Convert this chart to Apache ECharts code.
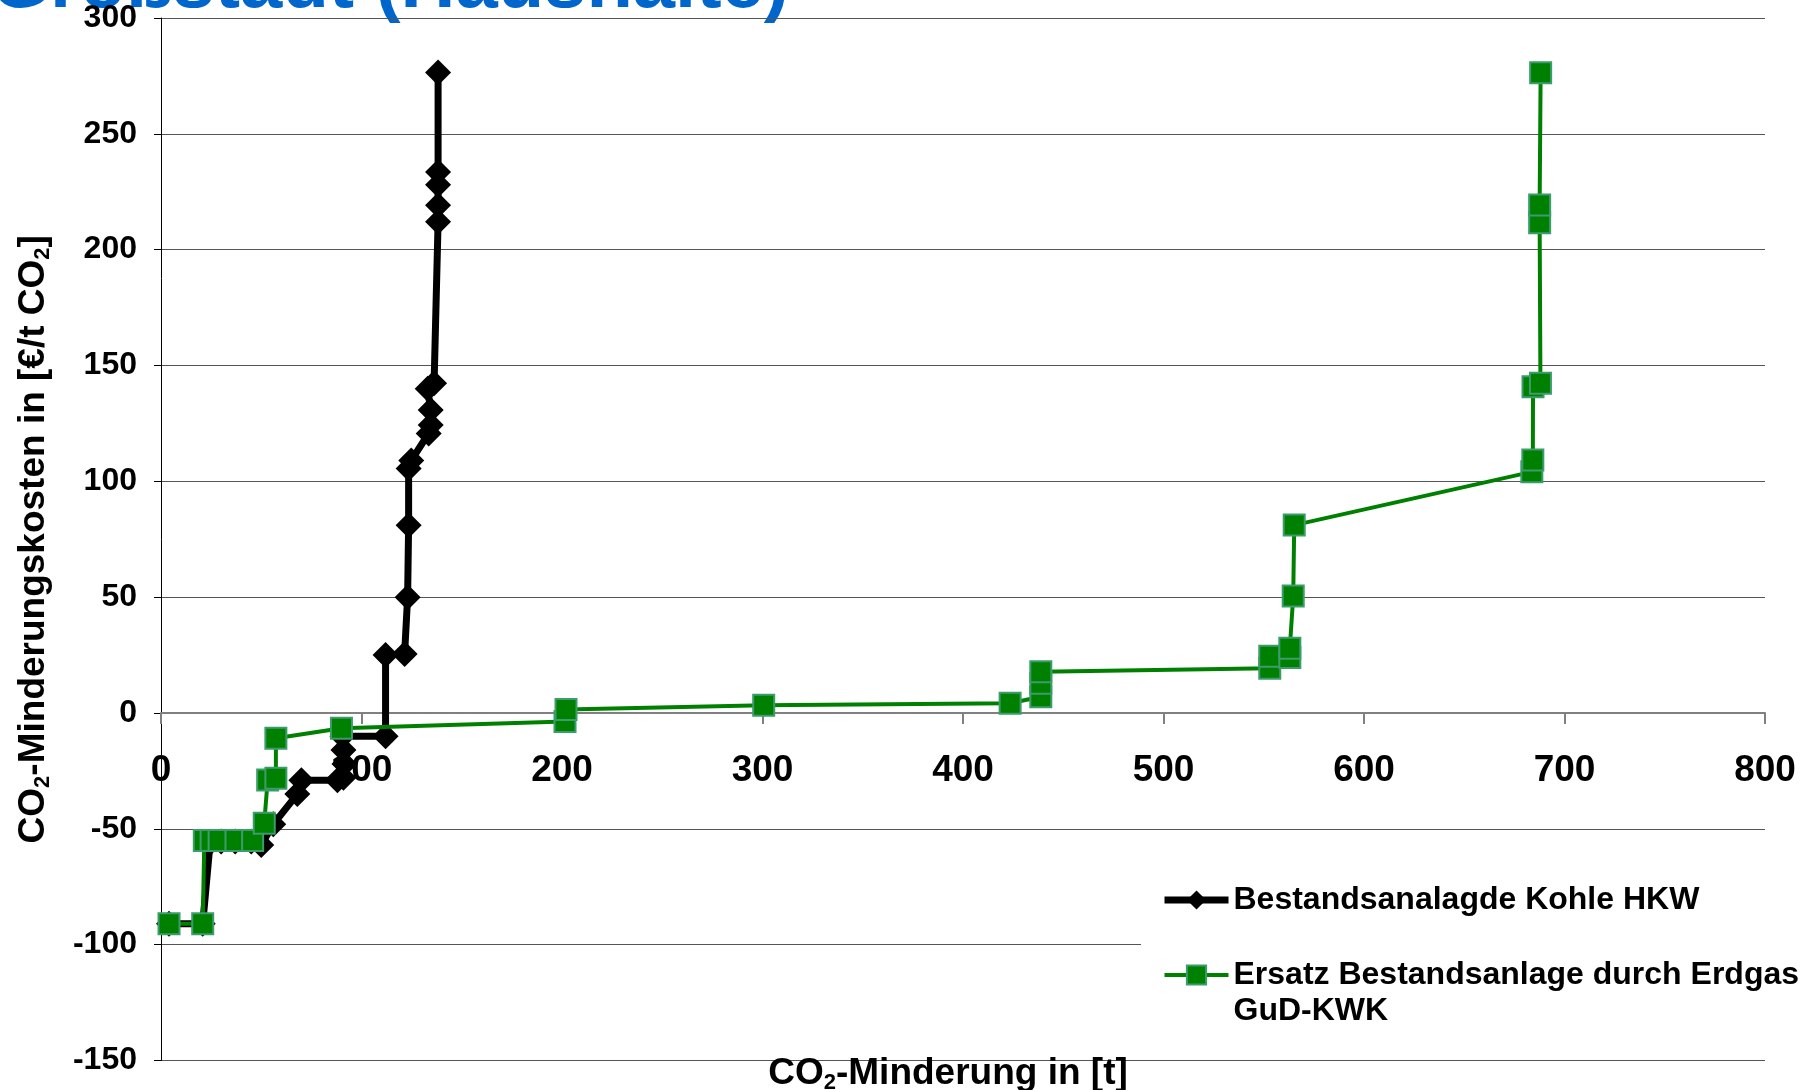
<!DOCTYPE html>
<html><head><meta charset="utf-8">
<script src="https://cdn.jsdelivr.net/npm/echarts@6/dist/echarts.min.js"></script>
<style>html,body{margin:0;padding:0;background:#fff}#c{width:1816px;height:1090px}</style>
</head><body><div id="c"></div>
<script>
// ---- data ----
const titleText = 'Großstadt (Haushalte)';
const seriesNames = ['Bestandsanalagde Kohle HKW', 'Ersatz Bestandsanlage durch Erdgas GuD-KWK'];
const legendLabels = ['Bestandsanalagde Kohle HKW', '\u00a0\nErsatz Bestandsanlage durch Erdgas\nGuD-KWK'];

const kohleX = [4, 20.8, 24.5, 30, 37, 45, 50, 56, 68, 70, 88, 91, 91.5, 91, 90.5, 112, 112, 121.5, 123, 123.5, 123.5, 124.8, 133.5, 134.5, 134.5, 133, 136.2, 138.2, 138.2, 138.2, 138.2, 138.2];
const kohleY = [-91, -91, -56, -55.5, -55.5, -55.5, -57, -48, -35, -29, -29, -28, -22, -16, -10, -10, 25, 25.5, 50, 81, 105.5, 109, 120.7, 124.3, 130.8, 140, 142.3, 212, 219.2, 228, 233.5, 276.5];

const gudX = [4, 20.8, 21.6, 25, 29, 37.4, 45.7, 51.5, 53.2, 57.3, 57.3, 90, 201.5, 202, 300.6, 423.5, 438.8, 438.8, 438.8, 553, 553, 563, 563, 564.7, 565.2, 683.7, 684.2, 684.3, 688, 687.6, 687.6, 688.1];
const gudY = [-91, -91, -55, -55, -55, -55, -55, -47.6, -28.9, -28.2, -10.9, -6.6, -3.7, 1.5, 3.3, 4.2, 7, 12.8, 17.8, 19.3, 24.5, 24, 28, 50.5, 81.1, 104.1, 109.2, 140.8, 142.3, 211.6, 219.3, 276.4];

const xMin = 0, xMax = 800, xStep = 100;
const yMin = -150, yMax = 300, yStep = 50;

// ---- chart ----
const FONT = "'Liberation Sans', Arial, Helvetica, sans-serif";
const pairs = (xs, ys) => xs.map((x, i) => [x, ys[i]]);
const chart = echarts.init(document.getElementById('c'), null, {renderer: 'canvas'});

const GRID_TOP = 18, GRID_BOTTOM = 29.5, H = 1090;
// offset that puts the x axis (line, ticks, labels) on the y = 0 line
const plotH = H - GRID_TOP - GRID_BOTTOM;
const zeroOffset = -plotH * (0 - yMin) / (yMax - yMin);

const richName = (fs) => ({
  t: {fontFamily: FONT, fontWeight: 'bold', fontSize: fs, color: '#000', lineHeight: fs + 4},
  s: {fontFamily: FONT, fontWeight: 'bold', fontSize: Math.round(fs * 0.6), color: '#000', verticalAlign: 'bottom'}
});

chart.setOption({
  animation: false,
  backgroundColor: '#fff',
  grid: {left: 161, right: 51, top: GRID_TOP, bottom: GRID_BOTTOM, containLabel: false, outerBoundsMode: 'none'},
  graphic: [{
    type: 'text', x: -9, y: -14, z: 0,
    style: {text: titleText, font: "bold 76px " + FONT, fill: '#0066cc', verticalAlign: 'middle', align: 'left'}
  }],
  xAxis: {
    type: 'value', min: xMin, max: xMax, interval: xStep,
    position: 'bottom', offset: zeroOffset,
    axisLine: {show: true, onZero: false, lineStyle: {color: '#808080', width: 2}},
    axisTick: {show: true, inside: false, length: 11, lineStyle: {color: '#808080', width: 2}},
    axisLabel: {margin: 39, fontFamily: FONT, fontWeight: 'bold', fontSize: 37, color: '#000'},
    splitLine: {show: false},
    name: '{t|CO}{s|2}{t|-Minderung in [t]}',
    nameLocation: 'middle', nameGap: 340,
    nameTextStyle: {rich: richName(37), padding: [0, 30, 0, 0]}
  },
  yAxis: {
    type: 'value', min: yMin, max: yMax, interval: yStep,
    axisLine: {show: true, onZero: false, lineStyle: {color: '#000', width: 1}},
    axisTick: {show: true, inside: false, length: 7, lineStyle: {color: '#000', width: 1}},
    axisLabel: {margin: 24, fontFamily: FONT, fontWeight: 'bold', fontSize: 32, color: '#000'},
    splitLine: {show: true, lineStyle: {color: '#555', width: 1}},
    name: '{t|CO}{s|2}{t|-Minderungskosten in [€/t CO}{s|2}{t|]}',
    nameLocation: 'middle', nameGap: 107,
    nameTextStyle: {rich: richName(37)}
  },
  legend: {
    orient: 'vertical', left: 1141, top: 862,
    padding: [20, 30, 12, 20],
    backgroundColor: '#fff',
    itemWidth: 64, itemHeight: 24, itemGap: 3,
    data: [
      {name: seriesNames[0], lineStyle: {width: 7, color: '#000'}},
      {name: seriesNames[1], lineStyle: {width: 4, color: '#008000'}}
    ],
    formatter: name => legendLabels[seriesNames.indexOf(name)],
    textStyle: {fontFamily: FONT, fontWeight: 'bold', fontSize: 32, color: '#000', lineHeight: 36}
  },
  series: [
    {
      name: seriesNames[0], type: 'line', data: pairs(kohleX, kohleY),
      symbol: 'diamond', symbolSize: 26, showAllSymbol: true,
      lineStyle: {color: '#000', width: 7},
      itemStyle: {color: '#000'},
      z: 2
    },
    {
      name: seriesNames[1], type: 'line', data: pairs(gudX, gudY),
      symbol: 'rect', symbolSize: 21, showAllSymbol: true,
      lineStyle: {color: '#008000', width: 4},
      itemStyle: {color: '#008000', borderColor: '#3c9c6c', borderWidth: 2},
      z: 3
    }
  ]
});
</script>
</body></html>
